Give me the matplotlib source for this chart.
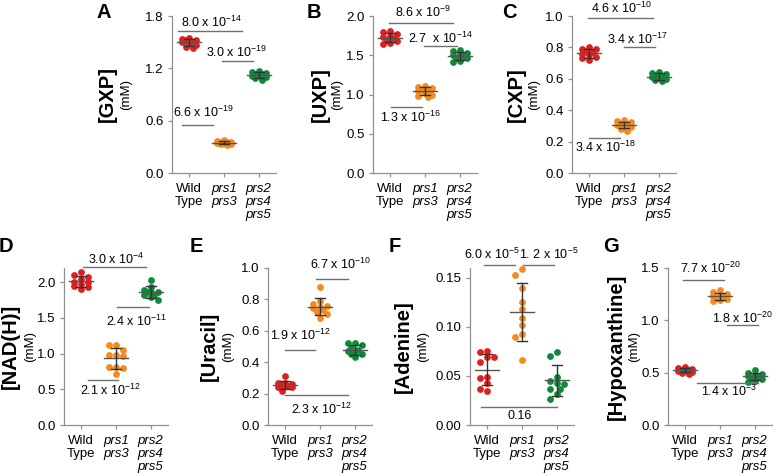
import numpy as np
import matplotlib
matplotlib.use('Agg')
import matplotlib.pyplot as plt

plt.rcParams['font.family'] = ['Liberation Sans', 'DejaVu Sans']
plt.rcParams['mathtext.fontset'] = 'custom'
plt.rcParams['mathtext.rm'] = 'Liberation Sans'
plt.rcParams['mathtext.it'] = 'Liberation Sans:italic'
plt.rcParams['mathtext.bf'] = 'Liberation Sans:bold'

groups = ['Wild\nType', 'prs1\nprs3', 'prs2\nprs4\nprs5']
colors = ['#e31e1e', '#f58a1f', '#108a3a']

# values (mM), order: wild type, prs1 prs3, prs2 prs4 prs5
gxp_wt = [1.55, 1.54, 1.53, 1.52, 1.50, 1.50, 1.49, 1.47, 1.44, 1.43]
gxp_13 = [0.38, 0.37, 0.36, 0.355, 0.35, 0.345, 0.34, 0.335, 0.33, 0.32]
gxp_245 = [1.17, 1.16, 1.15, 1.14, 1.13, 1.12, 1.11, 1.10, 1.09, 1.07]

uxp_wt = [1.81, 1.79, 1.77, 1.75, 1.73, 1.72, 1.70, 1.68, 1.66, 1.64]
uxp_13 = [1.11, 1.10, 1.08, 1.06, 1.05, 1.04, 1.02, 1.00, 0.98, 0.97]
uxp_245 = [1.57, 1.55, 1.53, 1.51, 1.50, 1.49, 1.47, 1.46, 1.43, 1.42]

cxp_wt = [0.80, 0.79, 0.79, 0.78, 0.77, 0.76, 0.75, 0.74, 0.73, 0.72]
cxp_13 = [0.335, 0.33, 0.325, 0.315, 0.31, 0.305, 0.30, 0.29, 0.28, 0.27]
cxp_245 = [0.645, 0.64, 0.63, 0.62, 0.615, 0.61, 0.605, 0.60, 0.59, 0.585]

nad_wt = [2.15, 2.10, 2.08, 2.05, 2.01, 2.00, 1.98, 1.95, 1.93, 1.91]
nad_13 = [1.115, 1.115, 1.055, 0.975, 0.975, 0.96, 0.81, 0.81, 0.80, 0.71]
nad_245 = [2.03, 1.94, 1.89, 1.86, 1.86, 1.86, 1.82, 1.82, 1.79, 1.75]

ura_wt = [0.31, 0.265, 0.265, 0.26, 0.255, 0.25, 0.25, 0.245, 0.24, 0.215]
ura_13 = [0.88, 0.79, 0.77, 0.76, 0.75, 0.745, 0.735, 0.72, 0.71, 0.68]
ura_245 = [0.525, 0.52, 0.51, 0.49, 0.48, 0.47, 0.46, 0.45, 0.45, 0.43]

ade_wt = [0.0757, 0.0747, 0.0696, 0.0689, 0.0645, 0.0493, 0.0476, 0.0426, 0.0365, 0.0348]
ade_13 = [0.159, 0.1533, 0.1395, 0.1253, 0.1179, 0.1094, 0.1024, 0.0925, 0.0901, 0.0662]
ade_245 = [0.0747, 0.0706, 0.0493, 0.0449, 0.0426, 0.0419, 0.0368, 0.0368, 0.0318, 0.0267]

hyp_wt = [0.55, 0.545, 0.535, 0.53, 0.525, 0.52, 0.515, 0.51, 0.50, 0.49]
hyp_13 = [1.29, 1.27, 1.25, 1.24, 1.23, 1.22, 1.21, 1.20, 1.19, 1.18]
hyp_245 = [0.53, 0.50, 0.485, 0.475, 0.465, 0.455, 0.45, 0.44, 0.425, 0.41]

# p-values: (label, line from, line to, line y, text x, text y)
p_gxp = [('8.0 x 10$^{-14}$', -0.33, 1.52, 1.63, 0.65, 1.73),
         ('3.0 x 10$^{-19}$', 0.94, 1.84, 1.28, 1.35, 1.38),
         ('6.6 x 10$^{-19}$', -0.21, 0.68, 0.55, 0.42, 0.69)]
p_uxp = [('8.6 x 10$^{-9}$', -0.04, 1.81, 1.91, 0.94, 2.04),
         ('2.7  x 10$^{-14}$', 0.97, 1.92, 1.62, 1.43, 1.72),
         ('1.3 x 10$^{-16}$', 0.02, 0.91, 0.84, 0.57, 0.71)]
p_cxp = [('4.6 x 10$^{-10}$', -0.04, 1.84, 0.99, 0.94, 1.05),
         ('3.4 x 10$^{-17}$', 1.0, 1.89, 0.80, 1.40, 0.85),
         ('3.4 x 10$^{-18}$', -0.01, 0.88, 0.225, 0.48, 0.16)]
p_nad = [('3.0 x 10$^{-4}$', 0.05, 1.87, 2.22, 0.99, 2.32),
         ('2.4 x 10$^{-11}$', 1.03, 1.96, 1.66, 1.58, 1.45),
         ('2.1 x 10$^{-12}$', 0.2, 1.06, 0.63, 0.83, 0.48)]
p_ura = [('6.7 x 10$^{-10}$', 0.88, 1.81, 0.93, 1.58, 1.02),
         ('1.9 x 10$^{-12}$', 0.0, 0.86, 0.48, 0.45, 0.57),
         ('2.3 x 10$^{-12}$', 0.0, 1.81, 0.19, 1.03, 0.10)]
p_ade = [('6.0 x 10$^{-5}$', -0.1, 0.8, 0.163, 0.13, 0.174),
         ('1. 2 x 10$^{-5}$', 1.03, 1.92, 0.163, 1.78, 0.174),
         ('0.16', -0.18, 2.01, 0.018, 0.94, 0.009)]
p_hyp = [('7.7 x 10$^{-20}$', -0.07, 1.12, 1.39, 0.74, 1.50),
         ('1.8 x 10$^{-20}$', 1.2, 2.1, 0.955, 1.66, 1.02),
         ('1.4 x 10$^{-3}$', 0.34, 2.1, 0.40, 1.26, 0.32)]

W, H = 775, 476
fig = plt.figure(figsize=(W / 100, H / 100), dpi=100)

# letter, ylabel, data, pvals, ylim, yticks, tick fmt, axes left px, axes bottom px,
# letter pos px, ylabel x px, (mM) x px
panels = [
    ('A', '[GXP]', (gxp_wt, gxp_13, gxp_245), p_gxp, 1.8, np.arange(0, 1.81, 0.6), '%.1f', 172, 173, (104, 12), 107, 126),
    ('B', '[UXP]', (uxp_wt, uxp_13, uxp_245), p_uxp, 2.0, np.arange(0, 2.01, 0.5), '%.1f', 373, 173, (314, 12), 320, 337),
    ('C', '[CXP]', (cxp_wt, cxp_13, cxp_245), p_cxp, 1.0, np.arange(0, 1.01, 0.2), '%.1f', 572, 173, (509, 12), 516, 534),
    ('D', '[NAD(H)]', (nad_wt, nad_13, nad_245), p_nad, 2.2, np.arange(0, 2.01, 0.5), '%.1f', 64, 425, (6, 246), 10, 30),
    ('E', '[Uracil]', (ura_wt, ura_13, ura_245), p_ura, 1.0, np.arange(0, 1.01, 0.2), '%.1f', 268, 425, (196, 246), 209, 228),
    ('F', '[Adenine]', (ade_wt, ade_13, ade_245), p_ade, 0.16, np.arange(0, 0.151, 0.05), '%.2f', 470, 425, (395, 246), 403, 423),
    ('G', '[Hypoxanthine]', (hyp_wt, hyp_13, hyp_245), p_hyp, 1.5, np.arange(0, 1.51, 0.5), '%.1f', 668, 425, (611, 246), 616, 634),
]

grey = '#909090'
dark = '#333333'
aw, ah = 104, 157


def swarm(ax, vals, i):
    vals = np.asarray(vals, dtype=float)
    ypx = ax.transData.transform(np.column_stack([np.full(len(vals), i), vals]))[:, 1]
    unit = ax.transData.transform((1, 0))[0] - ax.transData.transform((0, 0))[0]
    cands = [0, -0.2, 0.2, -0.1, 0.1]
    placed = []
    offs = np.zeros(len(vals))
    for k in np.argsort(-vals):
        best, bestd = 0, -1
        for c in cands:
            if placed:
                d = min(np.hypot((c - po) * unit, ypx[k] - py) for po, py in placed)
            else:
                d = 1e9
            if d >= 6:
                best = c
                break
            if d > bestd:
                best, bestd = c, d
        offs[k] = best
        placed.append((best, ypx[k]))
    return i + offs


for letter, ylab, data, pvals, ytop, yt, fmt, x0, yb, lpos, ylx, mmx in panels:
    ax = fig.add_axes([x0 / W, 1 - yb / H, aw / W, ah / H])
    ax.set_xlim(-0.5, 2.5)
    ax.set_ylim(0, ytop)
    for s in ['top', 'right']:
        ax.spines[s].set_visible(False)
    for s in ['left', 'bottom']:
        ax.spines[s].set_color(grey)
        ax.spines[s].set_linewidth(0.9)
    ax.set_yticks(yt)
    ax.set_yticklabels([fmt % v for v in yt], fontsize=9.5)
    ax.set_xticks([0, 1, 2])
    labs = ax.set_xticklabels(groups, fontsize=9.5, linespacing=1.1)
    for lb in labs[1:]:
        lb.set_fontstyle('italic')
    ax.tick_params(direction='out', length=3, width=0.9, color=grey, pad=3)
    ax.tick_params(axis='x', pad=4)

    for i, vals in enumerate(data):
        xs = swarm(ax, vals, i)
        ax.scatter(xs, vals, s=24, color=colors[i], linewidths=0, zorder=2, clip_on=False)
        m = np.mean(vals)
        sd = np.std(vals, ddof=1)
        ax.plot([i - 0.35, i + 0.35], [m, m], color='#555555', lw=1.0, zorder=3)
        ax.plot([i, i], [m - sd, m + sd], color=dark, lw=1.0, zorder=3)
        for e in (m - sd, m + sd):
            ax.plot([i - 0.14, i + 0.14], [e, e], color=dark, lw=1.0, zorder=3)

    for txt, xa, xb, yl, xt, yt_ in pvals:
        ax.plot([xa, xb], [yl, yl], color='#707070', lw=1.0, clip_on=False)
        ax.text(xt, yt_, txt, fontsize=9, ha='center', va='center', clip_on=False)

    yc = 1 - (yb - ah / 2) / H
    fig.text(ylx / W, yc, ylab, rotation=90, fontsize=14.5, fontweight='bold', ha='center', va='center')
    fig.text(mmx / W, yc, '(mM)', rotation=90, fontsize=9.5, ha='center', va='center')
    fig.text(lpos[0] / W, 1 - lpos[1] / H, letter, fontsize=14.5, fontweight='bold', ha='center', va='center')

fig.savefig('out.png', dpi=100)
